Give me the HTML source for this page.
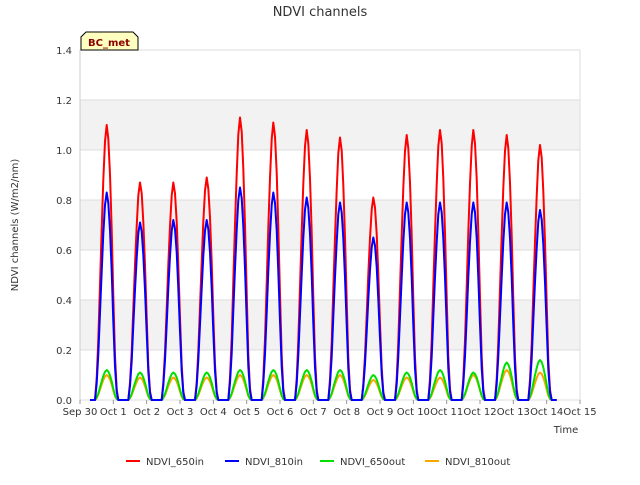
<!DOCTYPE html>
<html><head><meta charset="utf-8"><style>
body{margin:0;background:#fff;}
svg text{font-family:"DejaVu Sans","Liberation Sans",sans-serif;}
</style></head><body>
<svg id="chart" width="640" height="480">
<text x="320" y="16" text-anchor="middle" font-size="13" fill="#333">NDVI channels</text>
<g id="grid"></g>
<g id="series"></g>
<g id="axes"></g>
<text x="18" y="225" transform="rotate(-90 18 225)" text-anchor="middle" font-size="10" fill="#333">NDVI channels (W/m2/nm)</text>
<text x="566" y="433" text-anchor="middle" font-size="10" fill="#333">Time</text>
<g>
<path d="M81,50 L81,37 L86,32 L133,32 L138,37 L138,50 Z" fill="#ffffc0" stroke="#000" stroke-width="1"/>
<text x="109" y="46" text-anchor="middle" font-size="10" font-weight="bold" fill="#8b0000">BC_met</text>
</g>
<g id="legend"></g>
</svg>
<script>
const dayLabels=["Sep 30","Oct 1","Oct 2","Oct 3","Oct 4","Oct 5","Oct 6","Oct 7","Oct 8","Oct 9","Oct 10","Oct 11","Oct 12","Oct 13","Oct 14","Oct 15"];
const yTicks=[0,0.2,0.4,0.6,0.8,1.0,1.2,1.4];
const seriesNames=["NDVI_650in","NDVI_810in","NDVI_650out","NDVI_810out"];
const seriesColors=["#ff0000","#0000ff","#00e000","#ffa500"];
const peak650in=[1.10,0.87,0.87,0.89,1.13,1.11,1.08,1.05,0.81,1.06,1.08,1.08,1.06,1.02];
const peak810in=[0.83,0.71,0.72,0.72,0.85,0.83,0.81,0.79,0.65,0.79,0.79,0.79,0.79,0.76];
const peak650out=[0.12,0.11,0.11,0.11,0.12,0.12,0.12,0.12,0.10,0.11,0.12,0.11,0.15,0.16];
const peak810out=[0.10,0.09,0.09,0.09,0.10,0.10,0.10,0.10,0.08,0.09,0.09,0.10,0.12,0.11];
const profileHours=[0.45,0.5,0.55,0.6,0.65,0.7,0.75,0.8,0.85,0.9,0.95,1.0,1.05,1.1,1.15];
const profileFrac=[0,0.08,0.22,0.42,0.62,0.8,0.94,1.0,0.95,0.82,0.62,0.38,0.16,0.04,0];
const X0=80,X1=580,Y0=400,Y1=50;
const x=d=>X0+(X1-X0)*d/15;
const y=v=>Y0-(Y0-Y1)*v/1.4;
const NS="http://www.w3.org/2000/svg";
function mk(t,a,p){const e=document.createElementNS(NS,t);for(const k in a)e.setAttribute(k,a[k]);p.appendChild(e);return e;}
const grid=document.getElementById('grid'),axes=document.getElementById('axes'),ser=document.getElementById('series'),leg=document.getElementById('legend');
for(let i=0;i<yTicks.length-1;i++){if(i%2==1){const r=mk('rect',{x:X0,y:y(yTicks[i+1]),width:X1-X0,height:y(yTicks[i])-y(yTicks[i+1]),fill:'#f2f2f2'},grid);

}}
yTicks.forEach(v=>{const l=mk('line',{x1:X0,x2:X1,y1:y(v),y2:y(v),stroke:'#dcdcdc'},grid);


const t=mk('text',{x:X0-8,y:y(v)+4,'text-anchor':'end','font-size':10,fill:'#333'},axes);t.textContent=v.toFixed(1);

});
mk('line',{x1:X0,x2:X0,y1:Y1,y2:Y0,stroke:'#ccc'},grid);
mk('line',{x1:X1,x2:X1,y1:Y1,y2:Y0,stroke:'#ddd'},grid);
dayLabels.forEach((s,i)=>{mk('line',{x1:x(i),x2:x(i),y1:Y0,y2:Y0+4,stroke:'#999'},axes);
const t=mk('text',{x:x(i),y:Y0+15,'text-anchor':'middle','font-size':10,fill:'#333'},axes);t.textContent=s;

});
const peaks=[peak650in,peak810in,peak650out,peak810out];
[3,2,0,1].forEach(si=>{let d='M'+x(0.3)+','+y(0);
peaks[si].forEach((p,day)=>{profileHours.forEach((h,k)=>{d+=' L'+x(day+h).toFixed(1)+','+y(p*profileFrac[k]).toFixed(1);});});
d+=' L'+x(14.3)+','+y(0);
const pa=mk('path',{d:d,fill:'none',stroke:seriesColors[si],'stroke-width':2,'stroke-linejoin':'round'},ser);

});
const lx=[126,225,320,425];
seriesNames.forEach((n,i)=>{const g=mk('g',{},leg);


mk('line',{x1:lx[i],x2:lx[i]+14,y1:461,y2:461,stroke:seriesColors[i],'stroke-width':2},g);
const t=mk('text',{x:lx[i]+20,y:465,'font-size':10,fill:'#333'},g);t.textContent=n;});
</script>
</body></html>
